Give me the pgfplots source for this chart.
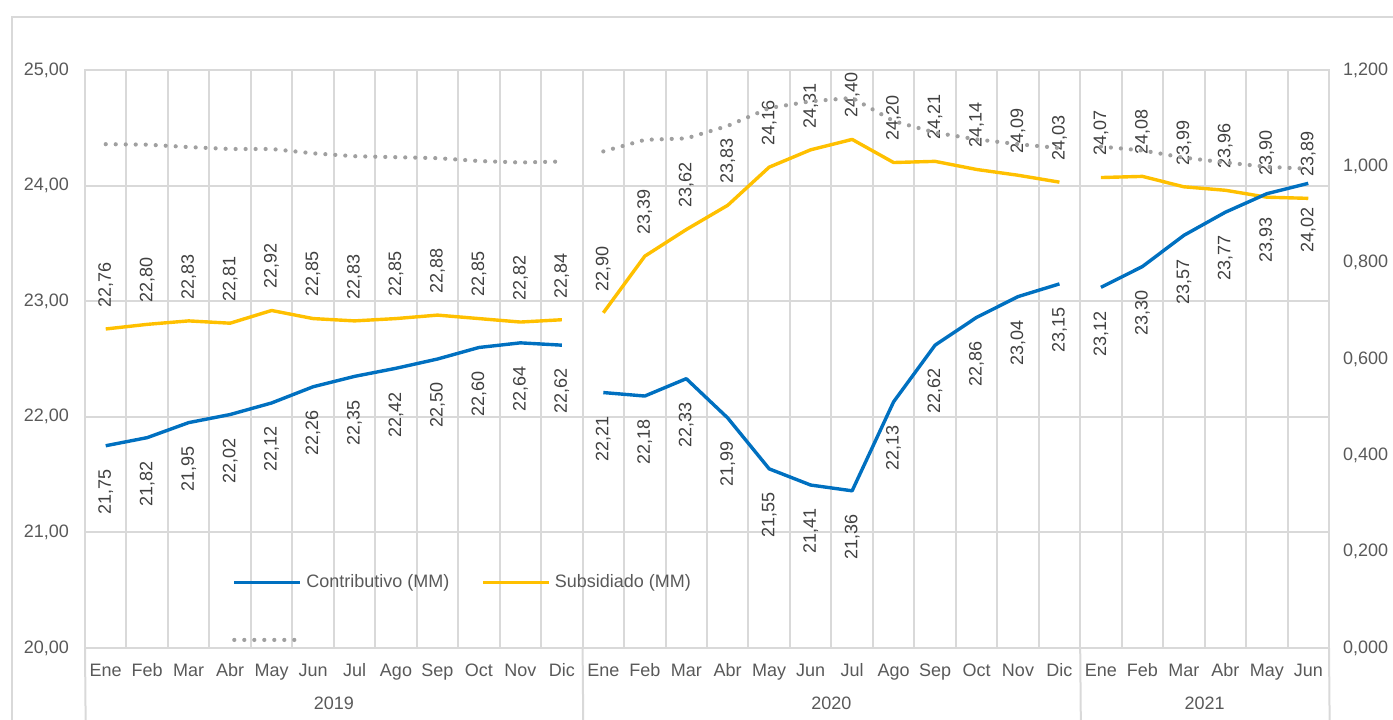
\documentclass[border=0pt]{standalone}
\usepackage{fontspec}
\setmainfont{Liberation Sans}
\usepackage{pgfplots}
\usepackage{pgfplotstable}
\pgfplotsset{compat=1.18}

\definecolor{contrib}{HTML}{0070C0}
\definecolor{subsid}{HTML}{FFC000}
\definecolor{ratio}{HTML}{A0A0A0}
\definecolor{gridc}{HTML}{D9D9D9}
\definecolor{txt}{HTML}{595959}
\definecolor{lbl}{HTML}{404040}

% x: month index, c: Contributivo (MM), s: Subsidiado (MM), r: ratio (right axis)
\pgfplotstableread{
x c s r
0 21.75 22.76 1.046
1 21.82 22.80 1.045
2 21.95 22.83 1.040
3 22.02 22.81 1.036
4 22.12 22.92 1.036
5 22.26 22.85 1.027
6 22.35 22.83 1.021
7 22.42 22.85 1.019
8 22.50 22.88 1.017
9 22.60 22.85 1.011
10 22.64 22.82 1.008
11 22.62 22.84 1.010
}\tabA
\pgfplotstableread{
x c s r
12 22.21 22.90 1.031
13 22.18 23.39 1.055
14 22.33 23.62 1.058
15 21.99 23.83 1.084
16 21.55 24.16 1.121
17 21.41 24.31 1.135
18 21.36 24.40 1.142
19 22.13 24.20 1.094
20 22.62 24.21 1.070
21 22.86 24.14 1.056
22 23.04 24.09 1.046
23 23.15 24.03 1.038
}\tabB
\pgfplotstableread{
x c s r
24 23.12 24.07 1.041
25 23.30 24.08 1.033
26 23.57 23.99 1.018
27 23.77 23.96 1.008
28 23.93 23.90 0.999
29 24.02 23.89 0.995
}\tabC

\newcommand{\fs}{\fontsize{9}{10.8}\selectfont}

\pgfplotsset{
  base/.style={
    scale only axis, width=622pt, height=289pt,
    xmin=-0.5, xmax=29.5,
    tick style={draw=none},
    ticklabel style={font=\fs, text=txt},
    /pgf/number format/assume math mode=true,
    /pgf/number format/use comma,
    /pgf/number format/1000 sep={},
  },
  cline/.style={contrib, line width=1.7pt, line join=round},
  sline/.style={subsid, line width=1.7pt, line join=round},
  rline/.style={ratio, line width=2.1pt, line cap=round, dash pattern=on 0pt off 5pt},
  upl/.style={nodes near coords, every node near coord/.append style={rotate=90, anchor=west, inner xsep=10pt, inner ysep=0pt, font=\fs, text=lbl}},
  dnl/.style={nodes near coords, every node near coord/.append style={rotate=90, anchor=east, inner xsep=11pt, inner ysep=0pt, font=\fs, text=lbl}},
}

\begin{document}
\begin{tikzpicture}
\begin{axis}[base,
  ymin=20, ymax=25, ytick={20,21,22,23,24,25},
  /pgf/number format/fixed, /pgf/number format/fixed zerofill,
  /pgf/number format/precision=2,
  xtick={0,...,29},
  xticklabels={Ene,Feb,Mar,Abr,May,Jun,Jul,Ago,Sep,Oct,Nov,Dic,
               Ene,Feb,Mar,Abr,May,Jun,Jul,Ago,Sep,Oct,Nov,Dic,
               Ene,Feb,Mar,Abr,May,Jun},
  xticklabel style={anchor=base, yshift=-14pt},
  yticklabel style={xshift=-4.5pt},
  minor xtick={-0.5,0.5,...,29.5},
  xminorgrids=true, ymajorgrids=true,
  minor x grid style={gridc, line width=1pt},
  major y grid style={gridc, line width=1pt},
  axis line style={gridc, line width=1pt},
  clip=false,
]
\addplot[sline, upl] table[x=x, y=s] {\tabA};
\addplot[sline, upl] table[x=x, y=s] {\tabB};
\addplot[sline, upl] table[x=x, y=s] {\tabC};
\addplot[cline, dnl] table[x=x, y=c] {\tabA};
\addplot[cline, dnl] table[x=x, y=c] {\tabB};
\addplot[cline, dnl] table[x=x, y=c] {\tabC};
\draw[gridc, line width=1pt] (axis cs:-0.5,20) -- ++(0,-40pt);
\draw[gridc, line width=1pt] (axis cs:11.5,20) -- ++(0,-40pt);
\draw[gridc, line width=1pt] (axis cs:23.5,20) -- ++(0,-40pt);
\draw[gridc, line width=1pt] (axis cs:29.5,20) -- ++(0,-40pt);
\node[font=\fs, text=txt, yshift=-27.5pt] at (axis cs:5.5,20) {2019};
\node[font=\fs, text=txt, yshift=-27.5pt] at (axis cs:17.5,20) {2020};
\node[font=\fs, text=txt, yshift=-27.5pt] at (axis cs:26.5,20) {2021};
\end{axis}
\begin{axis}[base,
  ymin=0, ymax=1.2, ytick={0,0.2,0.4,0.6,0.8,1,1.2},
  /pgf/number format/fixed, /pgf/number format/fixed zerofill,
  /pgf/number format/precision=3,
  axis y line*=right, axis x line=none,
  axis line style={draw=none},
  yticklabel style={xshift=3.5pt},
  legend columns=2,
  legend style={at={(0.118,0.135)}, anchor=north west, draw=none, fill=none,
    font=\fs, text=txt, row sep=20pt, inner sep=0pt,
    /tikz/every even column/.append style={column sep=14pt}},
  legend image code/.code={\draw[#1] (0pt,0pt) -- (33pt,0pt);},
]
\addlegendimage{cline}
\addlegendentry{Contributivo (MM)}
\addlegendimage{sline}
\addlegendentry{Subsidiado (MM)}
\addplot[rline] table[x=x, y=r] {\tabA};
\addlegendentry{}
\addplot[rline, forget plot] table[x=x, y=r] {\tabB};
\addplot[rline, forget plot] table[x=x, y=r] {\tabC};
\end{axis}
\draw[gridc, line width=1pt] (-36.5pt,-40pt) -- (-36.5pt,315.5pt) -- (670pt,315.5pt);
\pgfresetboundingbox
\useasboundingbox (-42.5pt,-35.5pt) rectangle (654pt,324pt);
\end{tikzpicture}
\end{document}
